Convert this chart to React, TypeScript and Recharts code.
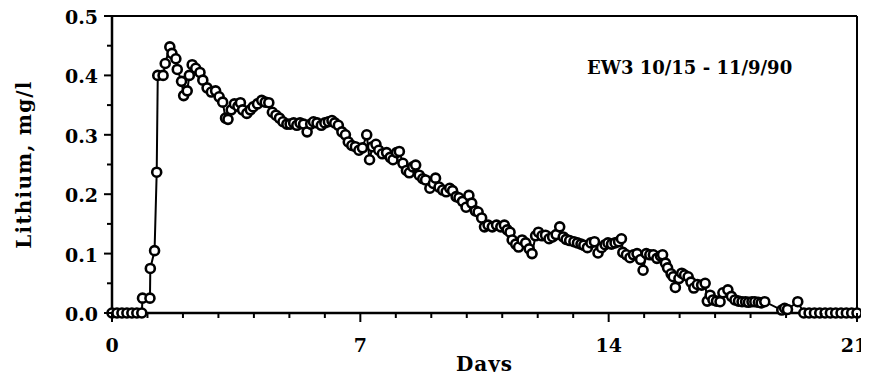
import React from 'react';
import {
  LineChart, Line, XAxis, YAxis, ReferenceLine, Customized
} from 'recharts';

// sampling times (days since injection)
const days = [
  0, 0.14, 0.28, 0.42, 0.56, 0.7, 0.84,
  0.86, 1.07, 1.08, 1.2, 1.26, 1.29, 1.44, 1.5, 1.63, 1.69, 1.8, 1.84, 1.96,
  2.02, 2.12, 2.18, 2.26, 2.36, 2.48, 2.56, 2.68, 2.8, 2.92, 3.02, 3.12, 3.2,
  3.27, 3.36, 3.45, 3.55, 3.62, 3.68, 3.8, 3.9, 3.98, 4.1, 4.22, 4.32, 4.42,
  4.52, 4.62, 4.72, 4.82, 4.93, 5.02, 5.12, 5.21, 5.3, 5.4, 5.5, 5.6, 5.68,
  5.78, 5.9, 6.0, 6.1, 6.2, 6.28, 6.38, 6.48, 6.58, 6.66, 6.76, 6.86, 6.96,
  7.06, 7.18, 7.26, 7.34, 7.44, 7.52, 7.62, 7.74, 7.84, 7.92, 8.02, 8.1, 8.2,
  8.3, 8.38, 8.48, 8.56, 8.66, 8.76, 8.84, 8.96, 9.06, 9.12, 9.22, 9.32, 9.42,
  9.52, 9.6, 9.7, 9.78, 9.88, 9.98, 10.06, 10.14, 10.24, 10.32, 10.42, 10.5,
  10.6, 10.72, 10.84, 10.96, 11.06, 11.14, 11.22, 11.28, 11.38, 11.46, 11.56,
  11.66, 11.76, 11.84, 11.94, 12.02, 12.12, 12.22, 12.32, 12.42, 12.52, 12.62,
  12.72, 12.8, 12.9, 13.02, 13.12, 13.22, 13.3, 13.4, 13.5, 13.6, 13.7, 13.8,
  13.9, 13.98, 14.08, 14.18, 14.28, 14.36, 14.4, 14.5, 14.6, 14.7, 14.8, 14.9,
  14.97, 15.06, 15.16, 15.26, 15.36, 15.46, 15.52, 15.6, 15.66, 15.76, 15.82,
  15.88, 15.98, 16.06, 16.14, 16.24, 16.32, 16.4, 16.5, 16.62, 16.72, 16.78,
  16.86, 16.94, 17.04, 17.14, 17.22, 17.36, 17.46, 17.56, 17.66, 17.76, 17.86,
  17.94, 18.04, 18.12, 18.22, 18.3, 18.4, 18.88, 18.96, 19.04, 19.33,
  19.5, 19.65, 19.8, 19.95, 20.1, 20.25, 20.4, 20.55, 20.7, 20.85, 21,
];

// lithium concentration, mg/l
const lithium = [
  0, 0, 0, 0, 0, 0, 0,
  0.025, 0.025, 0.075, 0.105, 0.237, 0.4, 0.4, 0.42, 0.448, 0.437, 0.428, 0.41, 0.39,
  0.366, 0.374, 0.4, 0.418, 0.412, 0.405, 0.392, 0.379, 0.372, 0.374, 0.364, 0.355, 0.328,
  0.326, 0.342, 0.352, 0.348, 0.354, 0.342, 0.336, 0.342, 0.347, 0.352, 0.358, 0.355, 0.354,
  0.338, 0.333, 0.328, 0.322, 0.318, 0.318, 0.32, 0.316, 0.32, 0.318, 0.305, 0.318, 0.322,
  0.32, 0.316, 0.32, 0.322, 0.324, 0.32, 0.316, 0.305, 0.3, 0.288, 0.282, 0.28, 0.274,
  0.278, 0.3, 0.258, 0.28, 0.284, 0.274, 0.268, 0.27, 0.262, 0.258, 0.27, 0.272, 0.252,
  0.24, 0.236, 0.246, 0.249, 0.232, 0.226, 0.224, 0.21, 0.218, 0.227, 0.212, 0.207, 0.204,
  0.21, 0.206, 0.196, 0.194, 0.188, 0.178, 0.198, 0.185, 0.172, 0.17, 0.16, 0.145,
  0.148, 0.145, 0.148, 0.145, 0.148, 0.14, 0.136, 0.123, 0.116, 0.111, 0.123,
  0.118, 0.108, 0.1, 0.13, 0.136, 0.13, 0.131, 0.125, 0.128, 0.132, 0.145,
  0.128, 0.124, 0.122, 0.12, 0.118, 0.116, 0.114, 0.11, 0.118, 0.12, 0.101, 0.11,
  0.115, 0.118, 0.116, 0.118, 0.12, 0.125, 0.102, 0.098, 0.093, 0.098, 0.1, 0.09,
  0.072, 0.1, 0.098, 0.098, 0.092, 0.096, 0.098, 0.084, 0.076, 0.066, 0.061,
  0.043, 0.058, 0.067, 0.064, 0.061, 0.052, 0.042, 0.048, 0.047, 0.05, 0.02,
  0.03, 0.022, 0.02, 0.019, 0.034, 0.039, 0.028, 0.022, 0.02, 0.019, 0.019,
  0.018, 0.019, 0.019, 0.018, 0.017, 0.019, 0.005, 0.008, 0.006, 0.019,
  0, 0, 0, 0, 0, 0, 0, 0, 0, 0, 0,
];

const xTicks = [0, 1, 2, 3, 4, 5, 6, 7, 8, 9, 10, 11, 12, 13, 14, 15, 16, 17, 18, 19, 20, 21];
const yTicks = [0, 0.05, 0.1, 0.15, 0.2, 0.25, 0.3, 0.35, 0.4, 0.45, 0.5];
const yLabels = ['0.0', '', '0.1', '', '0.2', '', '0.3', '', '0.4', '', '0.5'];

const FONT = '"DejaVu Serif", serif';

const data = days.map((d, i) => ({ day: d, li: lithium[i] }));

const XTick = (props: any) => {
  const { x, y, payload } = props;
  const major = payload.value % 7 === 0;
  return (
    <g>
      <line x1={x} x2={x} y1={y} y2={y + (major ? 9 : 5)} stroke="#000" strokeWidth={2} />
      {major && (
        <text
          x={x}
          dx={payload.value === 21 ? -3 : 0}
          y={y + 39}
          textAnchor="middle"
          fontFamily={FONT}
          fontWeight="bold"
          fontSize={19}
          fill="#000"
        >
          {payload.value}
        </text>
      )}
    </g>
  );
};

const YTick = (props: any) => {
  const { x, y, index } = props;
  const label = yLabels[index];
  return (
    <g>
      <line x1={x - (label ? 8 : 5)} x2={x} y1={y} y2={y} stroke="#000" strokeWidth={2} />
      {label && (
        <text x={x - 14} y={y + 8} textAnchor="end" fontFamily={FONT} fontWeight="bold" fontSize={19} fill="#000">
          {label}
        </text>
      )}
    </g>
  );
};

export default function App() {
  return (
    <div style={{ margin: -8, width: 869, height: 380 }}>
      <LineChart
        width={869}
        height={380}
        data={data}
        margin={{ top: 16, right: 12, left: 0, bottom: 7 }}
      >
        <XAxis
          dataKey="day"
          type="number"
          domain={[0, 21]}
          ticks={xTicks}
          interval={0}
          tickSize={0}
          tickMargin={0}
          tickLine={false}
          tick={<XTick />}
          axisLine={{ stroke: '#000', strokeWidth: 2.5 }}
          height={60}
          label={{
            value: 'Days', position: 'insideBottom', offset: 2,
            style: { fontFamily: FONT, fontWeight: 'bold', fontSize: 20, letterSpacing: 1, fill: '#000' },
          }}
        />
        <YAxis
          type="number"
          domain={[0, 0.5]}
          ticks={yTicks}
          interval={0}
          tickSize={0}
          tickMargin={0}
          tickLine={false}
          tick={<YTick />}
          axisLine={{ stroke: '#000', strokeWidth: 2.5 }}
          width={112}
          label={{
            value: 'Lithium, mg/l', angle: -90, position: 'insideLeft', offset: 24,
            style: { textAnchor: 'middle', fontFamily: FONT, fontWeight: 'bold', fontSize: 20, letterSpacing: 1.2, fill: '#000' },
          }}
        />
        <ReferenceLine y={0.5} stroke="#000" strokeWidth={2} />
        <ReferenceLine x={21} stroke="#000" strokeWidth={2} />
        <Line
          dataKey="li"
          type="linear"
          stroke="#000"
          strokeWidth={2}
          dot={{ r: 4.5, stroke: '#000', strokeWidth: 2.6, fill: '#fff' }}
          isAnimationActive={false}
        />
        <Customized
          component={() => (
            <text x={587} y={74} fontFamily={FONT} fontWeight="bold" fontSize={18} fill="#000">
              EW3 10/15 - 11/9/90
            </text>
          )}
        />
      </LineChart>
    </div>
  );
}
